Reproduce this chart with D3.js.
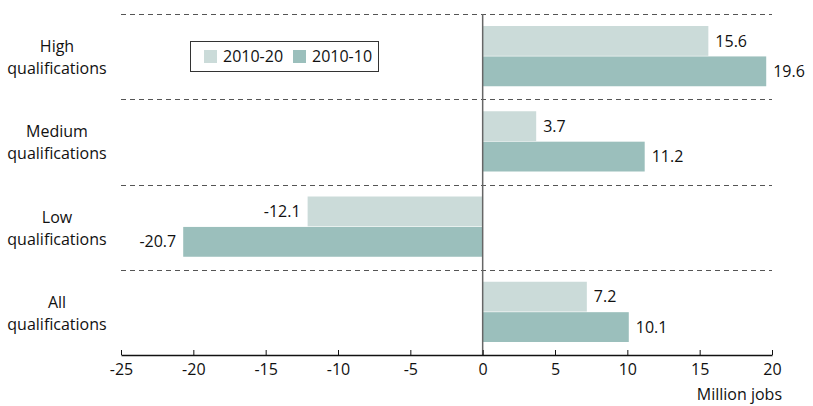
<!DOCTYPE html>
<html>
<head>
<meta charset="utf-8">
<script src="https://cdn.jsdelivr.net/npm/d3@7"></script>
<style>
  body { margin: 0; background: #fff; }
  svg { font-family: "Open Sans", sans-serif; }
</style>
</head>
<body>
<div id="vis"></div>
<script>
// chart size
const FRAME_WIDTH = 813;
const FRAME_HEIGHT = 406;
const MARGINS = {left: 121, right: 41, top: 14, bottom: 51};

// data
const categories = ["High qualifications", "Medium qualifications", "Low qualifications", "All qualifications"];
const catLines = [["High", "qualifications"], ["Medium", "qualifications"], ["Low", "qualifications"], ["All", "qualifications"]];
const seriesNames = ["2010-20", "2010-10"];
const values2020 = [15.6, 3.7, -12.1, 7.2];
const values2010 = [19.6, 11.2, -20.7, 10.1];
const xTicks = [-25, -20, -15, -10, -5, 0, 5, 10, 15, 20];

const COLORS = ["#cbdbd9", "#9bbfbc"];
const FONT_SIZE = "16px";
const TEXT_COLOR = "#111";

const VIS_WIDTH = FRAME_WIDTH - MARGINS.left - MARGINS.right;
const VIS_HEIGHT = FRAME_HEIGHT - MARGINS.top - MARGINS.bottom;

// plain hyphen for negatives, like the original
const fmt = v => (v < 0 ? "-" : "") + Math.abs(v).toFixed(1);

const svg = d3.select("#vis")
  .append("svg")
  .attr("width", FRAME_WIDTH)
  .attr("height", FRAME_HEIGHT);

const X_SCALE = d3.scaleLinear()
  .domain([-25, 20])
  .range([MARGINS.left, MARGINS.left + VIS_WIDTH]);

// bands for categories, the last band ends at the axis
const Y_SCALE = d3.scaleBand()
  .domain(categories)
  .range([MARGINS.top, MARGINS.top + VIS_HEIGHT]);

const SUB_SCALE = d3.scaleBand()
  .domain(seriesNames)
  .range([12, Y_SCALE.bandwidth() - 13])
  .paddingInner(0.02);

// dashed separators at top of each band
svg.selectAll(".sep")
  .data(categories)
  .enter()
  .append("line")
    .attr("x1", X_SCALE(-25))
    .attr("x2", X_SCALE(20))
    .attr("y1", d => Math.round(Y_SCALE(d)) + 0.5)
    .attr("y2", d => Math.round(Y_SCALE(d)) + 0.5)
    .attr("stroke", "#555")
    .attr("stroke-width", 1)
    .attr("stroke-dasharray", "5,4");

// bars
const rows = [];
categories.forEach((c, i) => {
  rows.push({cat: c, series: seriesNames[0], v: values2020[i]});
  rows.push({cat: c, series: seriesNames[1], v: values2010[i]});
});

svg.selectAll(".bar")
  .data(rows)
  .enter()
  .append("rect")
    .attr("x", d => X_SCALE(Math.min(0, d.v)))
    .attr("width", d => Math.abs(X_SCALE(d.v) - X_SCALE(0)))
    .attr("y", d => Y_SCALE(d.cat) + SUB_SCALE(d.series))
    .attr("height", SUB_SCALE.bandwidth())
    .attr("fill", d => d.series === seriesNames[0] ? COLORS[0] : COLORS[1]);

// value labels
svg.selectAll(".val")
  .data(rows)
  .enter()
  .append("text")
    .attr("x", d => d.v >= 0 ? X_SCALE(d.v) + 7 : X_SCALE(d.v) - 7)
    .attr("y", d => Y_SCALE(d.cat) + SUB_SCALE(d.series) + SUB_SCALE.bandwidth() / 2)
    .attr("dy", "0.35em")
    .attr("text-anchor", d => d.v >= 0 ? "start" : "end")
    .attr("font-size", FONT_SIZE)
    .attr("fill", TEXT_COLOR)
    .text(d => fmt(d.v));

// zero line
svg.append("line")
  .attr("x1", X_SCALE(0))
  .attr("x2", X_SCALE(0))
  .attr("y1", MARGINS.top)
  .attr("y2", MARGINS.top + VIS_HEIGHT)
  .attr("stroke", "#666")
  .attr("stroke-width", 1.5);

// x axis
const xAxis = svg.append("g")
  .attr("transform", "translate(0," + (MARGINS.top + VIS_HEIGHT) + ")")
  .call(d3.axisBottom(X_SCALE).tickValues(xTicks).tickSize(5).tickSizeOuter(0).tickFormat(d => (d < 0 ? "-" : "") + Math.abs(d)));
xAxis.select(".domain").attr("stroke", TEXT_COLOR).attr("stroke-width", 1.3);
xAxis.selectAll(".tick line").attr("stroke", TEXT_COLOR).attr("y1", -5).attr("y2", 0);
xAxis.selectAll(".tick text")
  .attr("font-size", FONT_SIZE)
  .attr("font-family", "'Open Sans', sans-serif")
  .attr("fill", TEXT_COLOR)
  .attr("y", 9)
  .attr("dy", "0.71em");

svg.append("text")
  .attr("x", X_SCALE(20) + 10)
  .attr("y", 400)
  .attr("text-anchor", "end")
  .attr("font-size", FONT_SIZE)
  .attr("fill", TEXT_COLOR)
  .text("Million jobs");

// category labels
categories.forEach((c, i) => {
  const cy = Y_SCALE(c) + Y_SCALE.bandwidth() / 2;
  svg.append("text")
    .attr("x", 57)
    .attr("y", cy - 10)
    .attr("dy", "0.35em")
    .attr("text-anchor", "middle")
    .attr("font-size", FONT_SIZE)
    .attr("fill", TEXT_COLOR)
    .text(catLines[i][0]);
  svg.append("text")
    .attr("x", 57)
    .attr("y", cy + 12)
    .attr("dy", "0.35em")
    .attr("text-anchor", "middle")
    .attr("font-size", FONT_SIZE)
    .attr("fill", TEXT_COLOR)
    .text(catLines[i][1]);
});

// legend
const legend = svg.append("g").attr("transform", "translate(190,41)");
legend.append("rect")
  .attr("x", 0.5).attr("y", 0.5)
  .attr("width", 188).attr("height", 30)
  .attr("fill", "#fff")
  .attr("stroke", "#333")
  .attr("stroke-width", 1);
const legX = [14, 103];
seriesNames.forEach((s, i) => {
  legend.append("rect")
    .attr("x", legX[i]).attr("y", 9)
    .attr("width", 13).attr("height", 13)
    .attr("fill", COLORS[i]);
  legend.append("text")
    .attr("x", legX[i] + 19).attr("y", 15.5)
    .attr("dy", "0.35em")
    .attr("font-size", FONT_SIZE)
    .attr("fill", TEXT_COLOR)
    .text(s);
});
</script>
</body>
</html>
